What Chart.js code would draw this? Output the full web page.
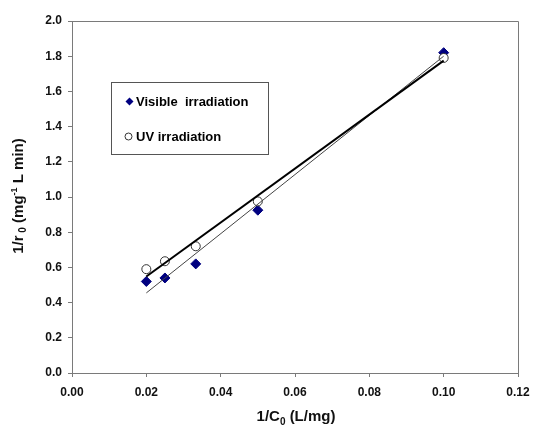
<!DOCTYPE html>
<html>
<head>
<meta charset="utf-8">
<script src="https://cdn.jsdelivr.net/npm/chart.js@4.4.0/dist/chart.umd.min.js"></script>
<style>
  html, body { margin: 0; padding: 0; background: #fff; }
  #wrap { width: 533px; height: 428px; }
</style>
</head>
<body>
<div id="wrap"><canvas id="kinetics" width="533" height="428"></canvas></div>
<script>
/* Data */
const invC0 = [0.02, 0.025, 0.0333, 0.05, 0.1];
const visibleRate = [0.52, 0.54, 0.62, 0.925, 1.82];
const uvRate = [0.59, 0.635, 0.72, 0.975, 1.79];

/* Fitted lines, endpoints */
const fitX = [0.02, 0.1];
const visibleFit = [0.455, 1.80];
const uvFit = [0.548, 1.775];

const legendLabels = ["Visible  irradiation", "UV irradiation"];

/* Axis titles as [text, font size, baseline shift] runs */
const xTitleRuns = [["1/C", 15, 0], ["0", 10, 4], [" (L/mg)", 15, 0]];
const yTitleRuns = [["1/r", 15, 0], [" 0", 10, 3], [" (mg", 15, 0], ["-1", 9, -6], [" L min)", 15, 0]];

const FONT = "'Liberation Sans', Arial, sans-serif";
const AXIS_GRAY = "#7a7a7a";

const toXY = (xs, ys) => xs.map((x, i) => ({ x: x, y: ys[i] }));

function drawRuns(ctx, runs, cx, baseline) {
    let total = 0;
    for (const [t, size] of runs) {
        ctx.font = "bold " + size + "px " + FONT;
        total += ctx.measureText(t).width;
    }
    let x = cx - total / 2;
    for (const [t, size, dy] of runs) {
        ctx.font = "bold " + size + "px " + FONT;
        ctx.fillText(t, x, baseline + dy);
        x += ctx.measureText(t).width;
    }
}

/* Frame, axis titles and the boxed legend */
const framePlugin = {
    id: "frame",
    afterDraw(chart) {
        const { ctx, chartArea: a } = chart;
        ctx.save();
        ctx.strokeStyle = AXIS_GRAY;
        ctx.lineWidth = 1;
        ctx.beginPath();
        ctx.moveTo(a.left, a.top + 0.5);
        ctx.lineTo(a.right + 0.5, a.top + 0.5);
        ctx.lineTo(a.right + 0.5, a.bottom);
        ctx.stroke();

        // axis titles
        ctx.fillStyle = "#111";
        ctx.textBaseline = "alphabetic";
        ctx.textAlign = "left";
        drawRuns(ctx, xTitleRuns, 296, 421);
        ctx.save();
        ctx.translate(23, 196);
        ctx.rotate(-Math.PI / 2);
        drawRuns(ctx, yTitleRuns, 0, 0);
        ctx.restore();

        // legend box
        ctx.strokeStyle = "#555";
        ctx.strokeRect(111.5, 82.5, 157, 72);
        ctx.font = "bold 13px " + FONT;
        ctx.textBaseline = "middle";

        // diamond marker
        ctx.fillStyle = "#000080";
        ctx.beginPath();
        ctx.moveTo(129.5, 97.5);
        ctx.lineTo(133.5, 101.5);
        ctx.lineTo(129.5, 105.5);
        ctx.lineTo(125.5, 101.5);
        ctx.closePath();
        ctx.fill();
        ctx.fillStyle = "#000";
        ctx.fillText(legendLabels[0], 136, 102);

        // circle marker
        ctx.beginPath();
        ctx.arc(128.5, 136.5, 3.5, 0, Math.PI * 2);
        ctx.fillStyle = "#fff";
        ctx.fill();
        ctx.strokeStyle = "#333";
        ctx.stroke();
        ctx.fillStyle = "#000";
        ctx.fillText(legendLabels[1], 136, 137);
        ctx.restore();
    }
};

new Chart(document.getElementById("kinetics"), {
    type: "scatter",
    data: {
        datasets: [
            {
                label: "UV fit",
                type: "line",
                data: toXY(fitX, uvFit),
                borderColor: "#000",
                borderWidth: 2,
                pointRadius: 0,
                fill: false,
            },
            {
                label: "Visible fit",
                type: "line",
                data: toXY(fitX, visibleFit),
                borderColor: "#444",
                borderWidth: 1,
                pointRadius: 0,
                fill: false,
            },
            {
                label: legendLabels[1],
                data: toXY(invC0, uvRate),
                pointStyle: "circle",
                pointRadius: 4.5,
                backgroundColor: "#fff",
                borderColor: "#333",
                borderWidth: 1,
            },
            {
                label: legendLabels[0],
                data: toXY(invC0, visibleRate),
                pointStyle: "rectRot",
                pointRadius: 5,
                backgroundColor: "#000080",
                borderColor: "#000080",
                borderWidth: 1,
            },
        ],
    },
    options: {
        responsive: false,
        animation: false,
        layout: { padding: { top: 21, right: 15, left: 0, bottom: 0 } },
        plugins: {
            legend: { display: false },
            tooltip: { enabled: false },
        },
        scales: {
            x: {
                type: "linear",
                min: 0,
                max: 0.12,
                afterFit: s => { s.height = 55; s.paddingLeft = 0; s.paddingRight = 0; },
                border: { color: AXIS_GRAY, width: 1 },
                grid: { drawOnChartArea: false, tickLength: 4, color: AXIS_GRAY },
                ticks: {
                    stepSize: 0.02,
                    padding: 8,
                    color: "#111",
                    font: { family: FONT, size: 12, weight: "bold" },
                    callback: v => v.toFixed(2),
                },
            },
            y: {
                type: "linear",
                min: 0,
                max: 2.0,
                afterFit: s => { s.width = 72; s.paddingTop = 0; s.paddingBottom = 0; },
                border: { color: AXIS_GRAY, width: 1 },
                grid: { drawOnChartArea: false, tickLength: 4, color: AXIS_GRAY },
                ticks: {
                    stepSize: 0.2,
                    padding: 6,
                    color: "#111",
                    font: { family: FONT, size: 12, weight: "bold" },
                    callback: v => v.toFixed(1),
                },
            },
        },
    },
    plugins: [framePlugin],
});
</script>
</body>
</html>
